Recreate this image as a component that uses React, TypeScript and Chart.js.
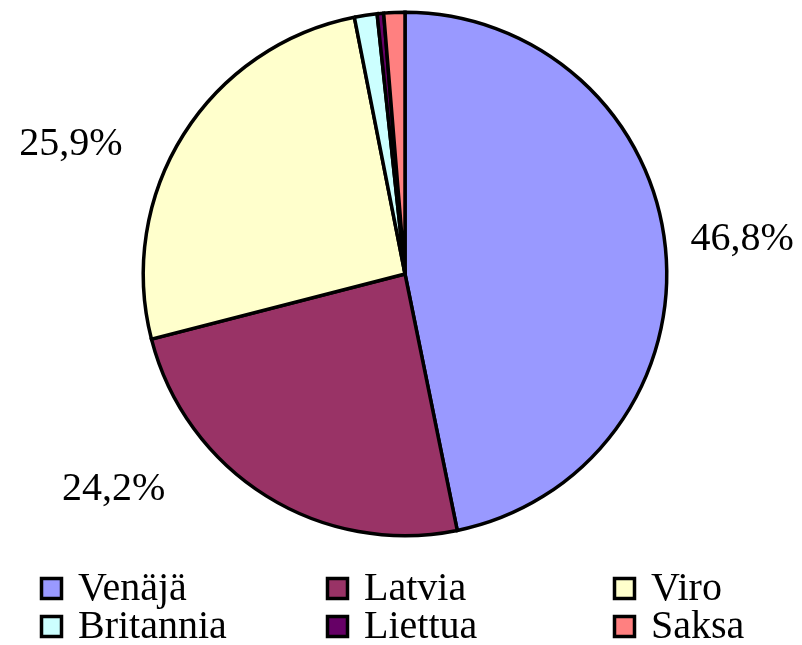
import React, { useEffect, useRef } from "react";
import { Chart, registerables } from "chart.js";

Chart.register(...registerables);

const categories = ["Venäjä", "Latvia", "Viro", "Britannia", "Liettua", "Saksa"];
const shares = [46.8, 24.2, 25.9, 1.4, 0.4, 1.3];
const labelTexts = ["46,8%", "24,2%", "25,9%", "", "", ""];
const colors = ["#9999FF", "#993366", "#FFFFCC", "#CCFFFF", "#660066", "#FF8080"];

// label placement style (angle shift in degrees, radius factor)
const labelShift = [-0.66, 21.9, -10.5, 0, 0, 0];
const labelRadius = [1.296, 1.377, 1.374, 0, 0, 0];

const FONT = "40px 'Liberation Serif', 'Times New Roman', serif";

const labelPlugin = {
  id: "sliceLabels",
  afterDatasetsDraw(chart: any) {
    const ctx = chart.ctx;
    const meta = chart.getDatasetMeta(0);
    ctx.save();
    ctx.font = FONT;
    ctx.fillStyle = "#000";
    ctx.textAlign = "center";
    ctx.textBaseline = "alphabetic";
    meta.data.forEach((arc: any, i: number) => {
      const t = labelTexts[i];
      if (!t) return;
      const { x, y, startAngle, endAngle, outerRadius } = arc.getProps(
        ["x", "y", "startAngle", "endAngle", "outerRadius"],
        true
      );
      const a = (startAngle + endAngle) / 2 + (labelShift[i] * Math.PI) / 180;
      const r = outerRadius * labelRadius[i];
      ctx.fillText(t, x + Math.cos(a) * r, y + Math.sin(a) * r + 14);
    });
    ctx.restore();
  },
};

const legendPlugin = {
  id: "customLegend",
  afterDraw(chart: any) {
    const ctx = chart.ctx;
    const colX = [40, 326, 613];
    const rowY = [577, 615];
    const box = 23;
    ctx.save();
    ctx.font = FONT;
    ctx.textAlign = "left";
    ctx.textBaseline = "alphabetic";
    categories.forEach((name, i) => {
      const c = i % 3;
      const r = Math.floor(i / 3);
      const bx = colX[c];
      const by = rowY[r];
      ctx.fillStyle = colors[i];
      ctx.fillRect(bx + 1.5, by + 1.5, box - 3, box - 3);
      ctx.lineWidth = 3.5;
      ctx.strokeStyle = "#000";
      ctx.strokeRect(bx + 1.5, by + 1.5, box - 3, box - 3);
      ctx.fillStyle = "#000";
      ctx.fillText(name, bx + 38, by + 23);
    });
    ctx.restore();
  },
};

export default function App() {
  const ref = useRef<HTMLCanvasElement | null>(null);
  useEffect(() => {
    if (!ref.current) return;
    const chart = new Chart(ref.current, {
      type: "pie",
      data: {
        labels: categories,
        datasets: [
          {
            data: shares,
            backgroundColor: colors,
            borderColor: "#000",
            borderWidth: 3.5,
            borderJoinStyle: "miter",
          } as any,
        ],
      },
      options: {
        responsive: false,
        animation: false,
        layout: { padding: { top: 10.5, bottom: 107.5, left: 141.5, right: 133.5 } },
        plugins: {
          legend: { display: false },
          tooltip: { enabled: false },
        },
      },
      plugins: [labelPlugin, legendPlugin],
    });
    return () => chart.destroy();
  }, []);
  return (
    <div style={{ position: "absolute", left: 0, top: 0, width: 802, height: 645, background: "#fff" }}>
      <canvas ref={ref} width={802} height={645} />
    </div>
  );
}
